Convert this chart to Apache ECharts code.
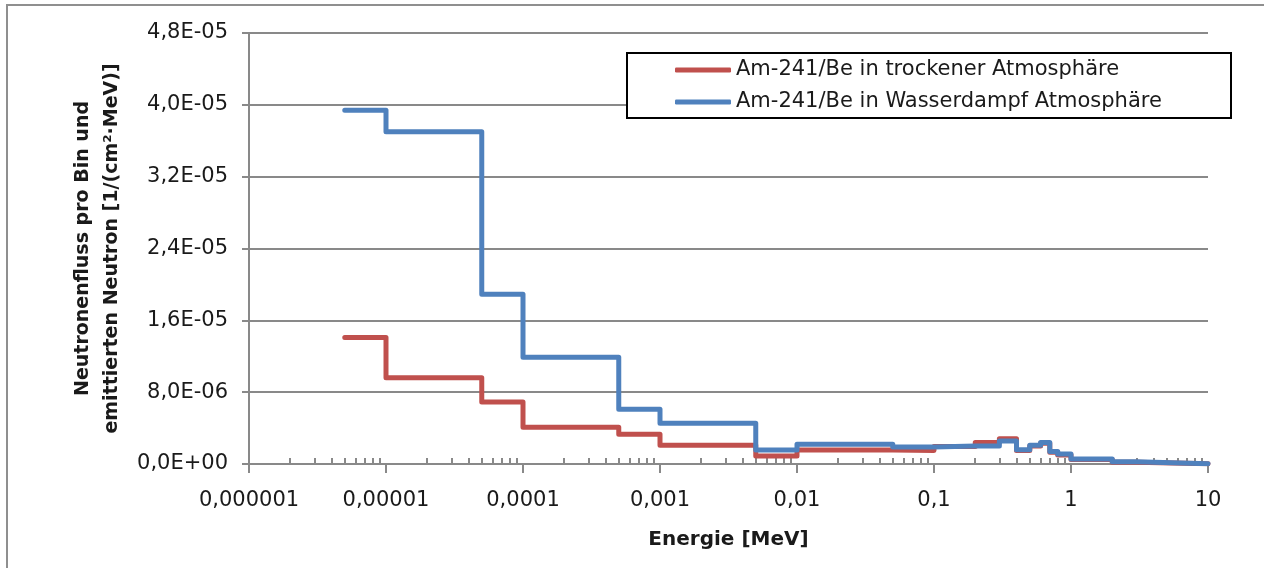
<!DOCTYPE html>
<html>
<head>
    <meta charset="utf-8">
    <title>Neutronenfluss</title>
    <script src="https://cdn.jsdelivr.net/npm/echarts@6.0.0/dist/echarts.min.js"></script>
    <style>
        html, body { margin: 0; padding: 0; background: #fff; }
        #chart1 { width: 1264px; height: 568px; }
    </style>
</head>
<body>
<div id="chart1"></div>
<script type="text/javascript">
    // Bin-Grenzen (MeV) und Werte pro Bin
    var edgesDry = [5e-6, 1e-5, 5e-5, 1e-4, 5e-4, 1e-3, 5e-3, 1e-2, 5e-2, 0.1, 0.2, 0.3, 0.4, 0.5, 0.6, 0.7, 0.8, 1, 2, 3, 10];
    var valuesDry = [1.41e-5, 9.6e-6, 6.9e-6, 4.1e-6, 3.3e-6, 2.1e-6, 8.9e-7, 1.55e-6, 1.5e-6, 1.95e-6, 2.4e-6, 2.8e-6,
        1.5e-6, 2.0e-6, 2.3e-6, 1.3e-6, 1.0e-6, 5e-7, 2e-7, 2e-8];
    var edgesWet = [5e-6, 1e-5, 5e-5, 1e-4, 5e-4, 1e-3, 5e-3, 1e-2, 5e-2, 0.1, 0.2, 0.3, 0.4, 0.5, 0.6, 0.7, 0.8, 1, 2, 3, 10];
    var valuesWet = [3.94e-5, 3.70e-5, 1.89e-5, 1.19e-5, 6.1e-6, 4.55e-6, 1.55e-6, 2.2e-6, 1.9e-6, 2.0e-6, 2.0e-6, 2.55e-6,
        1.6e-6, 2.1e-6, 2.4e-6, 1.4e-6, 1.1e-6, 5.5e-7, 2.5e-7, 3e-8];
    var seriesNames = ['Am-241/Be in trockener Atmosphäre', 'Am-241/Be in Wasserdampf Atmosphäre'];
    var decades = [1e-6, 1e-5, 1e-4, 1e-3, 1e-2, 0.1, 1, 10];

    // Zwischenstriche 2..9 je Dekade
    var minorTicks = [];
    for (var d = 0; d < decades.length - 1; d++) {
        for (var k = 2; k <= 9; k++) {
            minorTicks.push(decades[d] * k);
        }
    }

    function toSteps(edges, values) {
        var pts = [];
        for (var i = 0; i < values.length; i++) {
            pts.push([edges[i], values[i]]);
        }
        pts.push([edges[edges.length - 1], values[values.length - 1]]);
        return pts;
    }

    function fmtX(v) {
        var e = Math.round(Math.log10(v));
        var s = e < 0 ? v.toFixed(-e) : String(Math.round(v));
        return s.replace('.', ',');
    }

    function fmtY(v) {
        if (Math.abs(v) < 1e-12) return '0,0E+00';
        var p = v.toExponential(1).split('e');
        var ex = parseInt(p[1], 10);
        var sign = ex < 0 ? '-' : '+';
        ex = Math.abs(ex);
        return p[0].replace('.', ',') + 'E' + sign + (ex < 10 ? '0' : '') + ex;
    }

    var font = '"DejaVu Sans", "Open Sans", sans-serif';
    var txt = '#1a1a1a';
    var gray = '#898989';

    var myChart1 = echarts.init(document.getElementById('chart1'));
    myChart1.setOption({
        animation: false,
        textStyle: { fontFamily: font },
        graphic: [{
            type: 'rect',
            shape: { x: 7, y: 5, width: 1300, height: 620 },
            style: { fill: 'none', stroke: '#8f8f8f', lineWidth: 2 },
            silent: true
        }, {
            // Rahmen der Legende
            type: 'rect',
            z: 100,
            shape: { x: 627, y: 53, width: 604, height: 65 },
            style: { fill: '#fff', stroke: '#000', lineWidth: 2 },
            silent: true
        }],
        grid: { left: 249, right: 56, top: 33, bottom: 104 },
        legend: {
            orient: 'vertical',
            left: 675,
            top: 58,
            padding: 0,
            itemGap: 8,
            itemWidth: 56,
            itemHeight: 5,
            icon: 'roundRect',
            z: 110,
            textStyle: { fontSize: 21, color: txt, fontFamily: font, lineHeight: 24 },
            data: seriesNames
        },
        xAxis: [{
            type: 'log',
            logBase: 10,
            min: 1e-6,
            max: 10,
            name: 'Energie [MeV]',
            nameLocation: 'middle',
            nameGap: 66,
            nameTextStyle: { fontSize: 20, fontWeight: 'bold', color: txt },
            axisLine: { show: true, lineStyle: { color: gray, width: 2 } },
            axisTick: { show: true, length: 9, lineStyle: { color: gray, width: 2 } },
            axisLabel: { fontSize: 21, color: txt, margin: 26, formatter: fmtX },
            splitLine: { show: false }
        }, {
            type: 'log',
            logBase: 10,
            min: 1e-6,
            max: 10,
            position: 'bottom',
            axisLine: { show: false },
            axisTick: { show: true, inside: true, length: 6, customValues: minorTicks, lineStyle: { color: gray, width: 2 } },
            axisLabel: { show: false },
            splitLine: { show: false }
        }],
        yAxis: {
            type: 'value',
            min: 0,
            max: 4.8e-5,
            interval: 8e-6,
            name: 'Neutronenfluss pro Bin und\nemittierten Neutron [1/(cm²·MeV)]',
            nameLocation: 'middle',
            nameGap: 121,
            nameTextStyle: { fontSize: 19, fontWeight: 'bold', color: txt, lineHeight: 29 },
            axisLine: { show: true, lineStyle: { color: gray, width: 2 } },
            axisTick: { show: true, length: 7, lineStyle: { color: gray, width: 2 } },
            axisLabel: { fontSize: 21, color: txt, margin: 21, formatter: fmtY },
            splitLine: { show: true, lineStyle: { color: gray, width: 2 } }
        },
        series: [{
            name: seriesNames[0],
            type: 'line',
            step: 'end',
            showSymbol: false,
            color: '#C0504D',
            lineStyle: { width: 5, cap: 'round', join: 'round' },
            data: toSteps(edgesDry, valuesDry)
        }, {
            name: seriesNames[1],
            type: 'line',
            step: 'end',
            showSymbol: false,
            color: '#4F81BD',
            lineStyle: { width: 5, cap: 'round', join: 'round' },
            data: toSteps(edgesWet, valuesWet)
        }]
    });
</script>
</body>
</html>
